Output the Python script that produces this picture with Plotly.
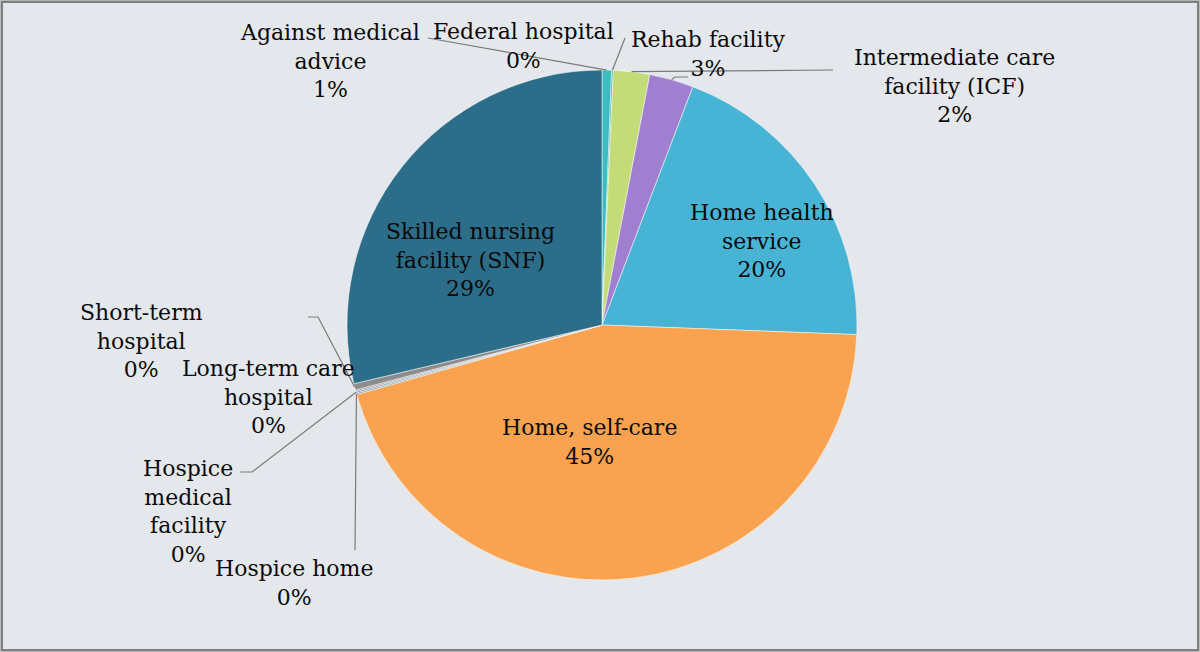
import math
import plotly.graph_objects as go

# ---- data (clockwise from 12 o'clock) ----
labels = [
    "Against medical advice", "Federal hospital", "Intermediate care facility (ICF)",
    "Rehab facility", "Home health service", "Home, self-care", "Hospice home",
    "Hospice medical facility", "Long-term care hospital", "Short-term hospital",
    "Skilled nursing facility (SNF)",
]
values = [0.6, 0.1, 2.3, 2.8, 19.8, 45.0, 0.1, 0.1, 0.1, 0.4, 28.7]
display_names = [
    "Against medical<br>advice", "Federal hospital", "Intermediate care<br>facility (ICF)",
    "Rehab facility", "Home health<br>service", "Home, self-care", "Hospice home",
    "Hospice<br>medical<br>facility", "Long-term care<br>hospital", "Short-term<br>hospital",
    "Skilled nursing<br>facility (SNF)",
]

# ---- styles ----
colors = ["#3cbcbf", "#35a9b4", "#c3dc78", "#a07fd0", "#47b4d6", "#f9a24f",
          "#7d9bb0", "#8a9aa8", "#9a9a9a", "#8c8c8c", "#2c6e89"]

W, H = 1200, 652
CX, CY, R = 602, 325, 255

# label centers in pixels and leader-line start points (pixels)
label_pos = {
    "Against medical advice": (330, 61),
    "Federal hospital": (523, 46),
    "Intermediate care facility (ICF)": (954, 86),
    "Rehab facility": (708, 54),
    "Home health service": (762, 241),
    "Home, self-care": (589, 442),
    "Hospice home": (294, 583),
    "Hospice medical facility": (188, 511),
    "Long-term care hospital": (268, 397),
    "Short-term hospital": (141, 341),
    "Skilled nursing facility (SNF)": (470, 260),
}
leader_start = {
    "Against medical advice": [(428, 38)],
    "Federal hospital": [(625, 38)],
    "Intermediate care facility (ICF)": [(833, 70)],
    "Rehab facility": [(688, 77), (675, 77)],
    "Short-term hospital": [(308, 317), (318, 317)],
    "Hospice medical facility": [(240, 472), (252, 472)],
    "Hospice home": [(355, 550)],
}

total = sum(values)
pcts = [round(v / total * 100) for v in values]


def px(x, y):
    return x / W, 1 - y / H


fig = go.Figure()
fig.add_trace(go.Pie(
    labels=labels, values=values, sort=False, direction="clockwise", rotation=0,
    marker=dict(colors=colors, line=dict(color="rgba(255,255,255,0.5)", width=1)),
    textinfo="none", hoverinfo="label+percent", showlegend=False,
    domain=dict(x=[(CX - R) / W, (CX + R) / W], y=[1 - (CY + R) / H, 1 - (CY - R) / H]),
))

annotations = []
shapes = []
cum = 0.0
for lab, name, v, p in zip(labels, display_names, values, pcts):
    mid = (cum + v / 2) / total * 2 * math.pi
    cum += v
    lx, ly = label_pos[lab]
    ax, ay = px(lx, ly)
    annotations.append(dict(
        x=ax, y=ay, xref="paper", yref="paper", text=f"{name}<br>{p}%",
        showarrow=False, align="center", xanchor="center", yanchor="middle",
        font=dict(family="DejaVu Serif", size=22, color="#0a0a0a"),
    ))
    if lab in leader_start:
        ex = CX + R * math.sin(mid)
        ey = CY - R * math.cos(mid)
        pts = leader_start[lab] + [(ex, ey)]
        path = "M " + " L ".join(f"{x},{y}" for x, y in (px(*q) for q in pts))
        shapes.append(dict(type="path", path=path, xref="paper", yref="paper",
                           line=dict(color="#7a7a7a", width=1.2)))

shapes.append(dict(type="rect", xref="paper", yref="paper", x0=0.0015, y0=0.0025,
                   x1=0.9985, y1=0.9975, line=dict(color="#808080", width=2.5)))

fig.update_layout(
    width=W, height=H, margin=dict(l=0, r=0, t=0, b=0),
    paper_bgcolor="#e4e8ec", plot_bgcolor="#e4e8ec",
    annotations=annotations, shapes=shapes,
)
fig.write_html(
    "out.html",
    config={"displayModeBar": False},
    post_script="document.body.style.margin='0';document.body.style.padding='0';",
)
